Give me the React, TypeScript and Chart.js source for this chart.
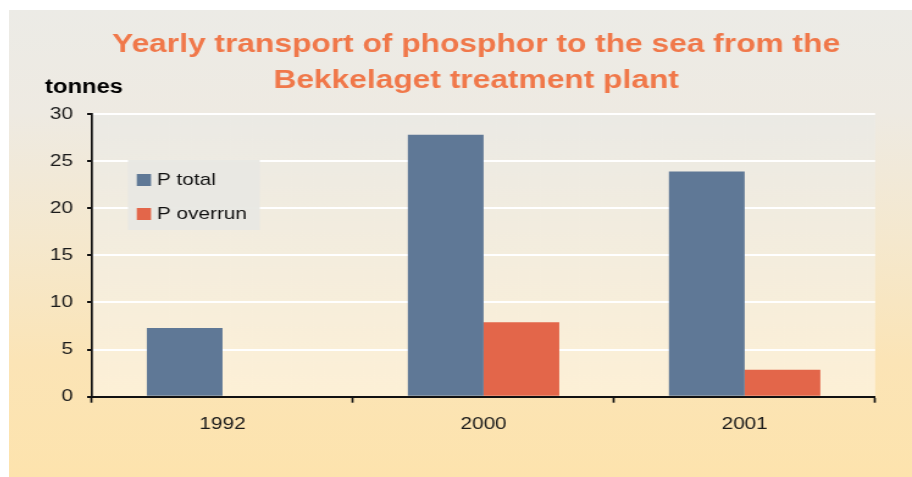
import React, { useEffect, useRef } from 'react';
import { Chart, registerables } from 'chart.js';

Chart.register(...registerables);

const categories = ['1992', '2000', '2001'];
const pTotal = [7.3, 27.8, 23.9];
const pOverrun = [0, 7.9, 2.85];
const seriesLabels = ['P total', 'P overrun'];
const seriesColors = ['#5F7896', '#E3664A'];
const titleLines = ['Yearly transport of phosphor to the sea from the', 'Bekkelaget treatment plant'];
const yAxisLabel = 'tonnes';
const yMin = 0;
const yMax = 30;
const yStep = 5;

const FAMILY = '"Liberation Sans", Arial, Helvetica, sans-serif';
// internal canvas size; displayed horizontally stretched like the reference bitmap
const CW = 740;
const CH = 467;

const plotBg = {
  id: 'plotBg',
  beforeDraw(chart: any) {
    const { ctx, chartArea: a } = chart;
    const g = ctx.createLinearGradient(0, a.top, 0, a.bottom);
    g.addColorStop(0, '#EBEAE5');
    g.addColorStop(1, '#FDF0D6');
    ctx.save();
    ctx.fillStyle = g;
    ctx.fillRect(a.left, a.top, a.right - a.left, a.bottom - a.top);
    ctx.restore();
  },
};

const twoLineTitle = {
  id: 'twoLineTitle',
  afterDraw(chart: any) {
    const { ctx } = chart;
    ctx.save();
    ctx.fillStyle = '#F0784A';
    ctx.font = `bold 26px ${FAMILY}`;
    ctx.textAlign = 'center';
    ctx.textBaseline = 'middle';
    titleLines.forEach((line, i) => {
      ctx.fillText(line, 382.8, 34.5 + i * 36.5);
    });
    ctx.restore();
  },
};

const boxLegend = {
  id: 'boxLegend',
  afterDatasetsDraw(chart: any) {
    const { ctx, chartArea: a } = chart;
    const x0 = a.left + 29.5;
    const y0 = a.top + 46;
    ctx.save();
    ctx.fillStyle = 'rgba(232,232,227,0.95)';
    ctx.fillRect(x0, y0, 108, 70);
    chart.data.datasets.forEach((ds: any, i: number) => {
      const cy = y0 + 20 + i * 34;
      ctx.fillStyle = ds.backgroundColor;
      ctx.fillRect(x0 + 7.2, cy - 6, 11.7, 12);
      ctx.fillStyle = '#111111';
      ctx.font = `17px ${FAMILY}`;
      ctx.textBaseline = 'middle';
      ctx.textAlign = 'left';
      ctx.fillText(ds.label, x0 + 23.8, cy);
    });
    ctx.restore();
  },
};

const unitLabel = {
  id: 'unitLabel',
  afterDraw(chart: any) {
    const { ctx, chartArea: a } = chart;
    ctx.save();
    ctx.fillStyle = '#000000';
    ctx.font = `bold 19.5px ${FAMILY}`;
    ctx.textBaseline = 'middle';
    ctx.textAlign = 'left';
    ctx.fillText(yAxisLabel, a.left - 38.5, a.top - 26);
    ctx.restore();
  },
};

export default function App() {
  const ref = useRef<HTMLCanvasElement | null>(null);

  useEffect(() => {
    if (!ref.current) return;
    const chart = new Chart(ref.current, {
      type: 'bar',
      data: {
        labels: categories,
        datasets: [
          { label: seriesLabels[0], data: pTotal, backgroundColor: seriesColors[0], barPercentage: 1, categoryPercentage: 0.58 },
          { label: seriesLabels[1], data: pOverrun, backgroundColor: seriesColors[1], barPercentage: 1, categoryPercentage: 0.58 },
        ],
      },
      options: {
        responsive: false,
        animation: false,
        devicePixelRatio: 1,
        layout: { padding: { left: 20, right: 30.2, top: 104, bottom: 30.3 } },
        plugins: {
          legend: { display: false },
          tooltip: { enabled: false },
          title: { display: false },
        },
        scales: {
          x: {
            grid: {
              display: true,
              drawOnChartArea: false,
              drawTicks: true,
              tickLength: 6,
              tickColor: '#111111',
              tickWidth: 1.7,
              offset: true,
            },
            border: { display: true, color: '#111111', width: 2 },
            ticks: { color: '#1a1a1a', font: { family: FAMILY, size: 17 }, padding: 11 },
            afterFit: (s: any) => { s.height = 50; },
          },
          y: {
            min: yMin,
            max: yMax,
            ticks: { stepSize: yStep, color: '#1a1a1a', font: { family: FAMILY, size: 17 }, padding: 11.5 },
            grid: { color: '#FFFFFF', lineWidth: 2, tickColor: '#111111', tickLength: 4, tickWidth: 2 },
            border: { display: true, color: '#111111', width: 1.7 },
            afterFit: (s: any) => { s.width = 48; },
          },
        },
      },
      plugins: [plotBg, boxLegend, unitLabel, twoLineTitle],
    } as any);
    return () => chart.destroy();
  }, []);

  return (
    <div
      style={{
        position: 'absolute',
        left: 9,
        top: 10,
        width: 903,
        height: 467,
        background: 'linear-gradient(to bottom, #ECEBE6 0%, #EEEAE2 22%, #F5E8CD 50%, #FBE4B6 75%, #FDE3AD 100%)',
        overflow: 'hidden',
      }}
    >
      <canvas
        ref={ref}
        width={CW}
        height={CH}
        style={{ display: 'block', width: '903px', height: '467px' }}
      />
    </div>
  );
}
